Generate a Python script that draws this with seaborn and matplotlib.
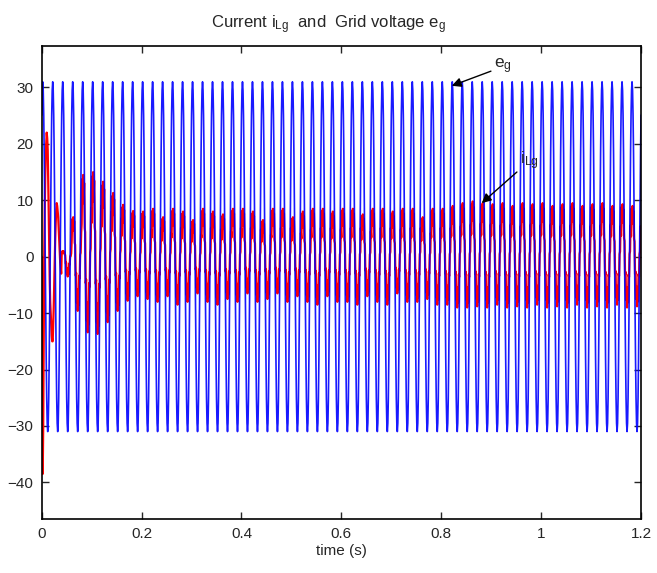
import numpy as np
import pandas as pd
import matplotlib
matplotlib.use("Agg")
import matplotlib.pyplot as plt
import seaborn as sns

# sample step (s) and number of 50 Hz cycles shown
dt = 0.001
n_cycles = 60

# one period of grid voltage e_g (20 samples, peak ~31 V)
eg_cycle = [25.1, 29.5, 31.0, 29.5, 25.1, 18.2, 9.6, 0.0, -9.6, -18.2,
            -25.1, -29.5, -31.0, -29.5, -25.1, -18.2, -9.6, 0.0, 9.6, 18.2]

# start-up transient of i_Lg, first 40 ms (1 ms samples)
ilg_start = [0.0, -20.0, -38.5, -30.0, -15.0, 0.0, 8.0, 14.0, 18.0, 20.0,
             22.0, 21.0, 19.0, 14.0, 8.0, 2.0, -4.0, -8.0, -10.0, -12.0,
             -14.0, -15.0, -15.0, -12.0, -9.0, -5.0, -1.0, 3.0, 6.0, 8.0,
             9.5, 9.0, 8.0, 7.0, 5.0, 3.0, 1.0, -1.0, -2.0, -3.0]

# normalised shape of one current period (rippled, flat-ish peaks)
ilg_shape = [0.40, 0.95, 0.65, 1.00, 0.70, 0.90, 0.35, 0.30, -0.35, -0.30,
             -0.85, -0.60, -1.00, -0.65, -0.90, -0.35, -0.40, 0.05, 0.10, 0.60]

# positive / negative peak of i_Lg for cycles 2..59
ilg_pos = [1.0, 7.0, 14.5, 15.0, 13.3, 11.3, 9.2, 8.1,
           8.0, 8.5, 7.0, 8.5, 8.0, 6.5, 8.5, 8.0, 7.5, 8.5,
           8.5, 8.0, 6.5, 8.5, 8.5, 7.0, 8.0, 8.5, 8.5, 8.0,
           8.5, 8.5, 7.5, 8.5, 8.5, 8.0, 8.5, 8.5, 7.0, 8.5,
           8.5, 9.0, 9.5, 9.8, 9.5, 9.3, 9.5, 9.0, 9.5, 9.3,
           9.5, 9.0, 9.3, 9.5, 9.0, 9.3, 9.5, 9.0, 9.3, 9.0]
ilg_neg = [-3.5, -9.6, -13.4, -13.7, -11.6, -9.6, -7.8, -7.0,
           -7.5, -8.0, -7.0, -8.5, -8.0, -6.5, -8.0, -8.5, -7.5, -8.0,
           -6.5, -8.0, -7.5, -6.5, -8.0, -7.0, -8.0, -8.5, -7.0, -8.0,
           -8.0, -8.5, -7.0, -8.0, -8.5, -6.5, -8.0, -8.0, -7.5, -8.5,
           -8.5, -9.0, -9.0, -8.8, -9.0, -8.5, -9.0, -8.8, -9.0, -8.5,
           -9.0, -8.8, -9.0, -8.5, -9.0, -8.8, -9.0, -8.5, -9.0, -8.8]

# ---- assemble the signals from the read values
n = len(eg_cycle) * n_cycles + 1
t = np.arange(n) * dt
eg = np.tile(eg_cycle, n_cycles + 1)[:n]

shape = np.tile(ilg_shape, len(ilg_pos))
pos = np.repeat(ilg_pos, len(ilg_shape))
neg = np.repeat(ilg_neg, len(ilg_shape))
body = np.where(shape > 0, shape * pos, -shape * neg)
ilg = np.concatenate([ilg_start, body, [ilg_shape[0] * ilg_pos[-1]]])[:n]

df = pd.DataFrame({"t": t, "eg": eg, "ilg": ilg})

sns.set_style("ticks")
plt.rcParams["font.family"] = ["Liberation Sans", "DejaVu Sans"]
plt.rcParams["mathtext.fontset"] = "custom"
plt.rcParams["mathtext.rm"] = "Liberation Sans"
plt.rcParams["mathtext.it"] = "Liberation Sans"

fig = plt.figure(figsize=(6.57, 5.73), dpi=100)
ax = fig.add_axes([0.0635, 0.0942, 0.9122, 0.8250])

sns.lineplot(data=df, x="t", y="ilg", color="#ff0000", lw=1.6,
             estimator=None, sort=False, ax=ax)
sns.lineplot(data=df, x="t", y="eg", color="#0000ff", lw=1.2, alpha=0.9,
             estimator=None, sort=False, ax=ax)

ax.set_xlim(0, 1.2)
ax.set_ylim(-46.5, 37.3)
ax.set_xticks([0, 0.2, 0.4, 0.6, 0.8, 1.0, 1.2])
ax.set_xticklabels(["0", "0.2", "0.4", "0.6", "0.8", "1", "1.2"])
ax.set_yticks([-40, -30, -20, -10, 0, 10, 20, 30])
ax.tick_params(direction="in", top=True, right=True, length=5, width=1,
               labelsize=11, pad=6)
for s in ax.spines.values():
    s.set_visible(True)
    s.set_linewidth(1.2)
    s.set_color("black")

ax.set_xlabel("time (s)", fontsize=11, labelpad=2)
ax.set_ylabel("")
ax.set_title(r"Current i$_{\mathrm{Lg}}$  and  Grid voltage e$_{\mathrm{g}}$",
             fontsize=12, pad=13, x=0.478)

arrow = dict(arrowstyle="-|>", color="black", lw=1, mutation_scale=14,
             shrinkA=0, shrinkB=0)
ax.annotate(r"e$_{\mathrm{g}}$", xy=(0.821, 30.3), xytext=(0.906, 33.7),
            fontsize=12.5, ha="left", va="center", arrowprops=arrow)
ax.annotate(r"i$_{\mathrm{Lg}}$", xy=(0.881, 9.5), xytext=(0.958, 15.0),
            fontsize=12.5, ha="left", va="bottom", arrowprops=arrow)

fig.savefig("out.png", dpi=100)
